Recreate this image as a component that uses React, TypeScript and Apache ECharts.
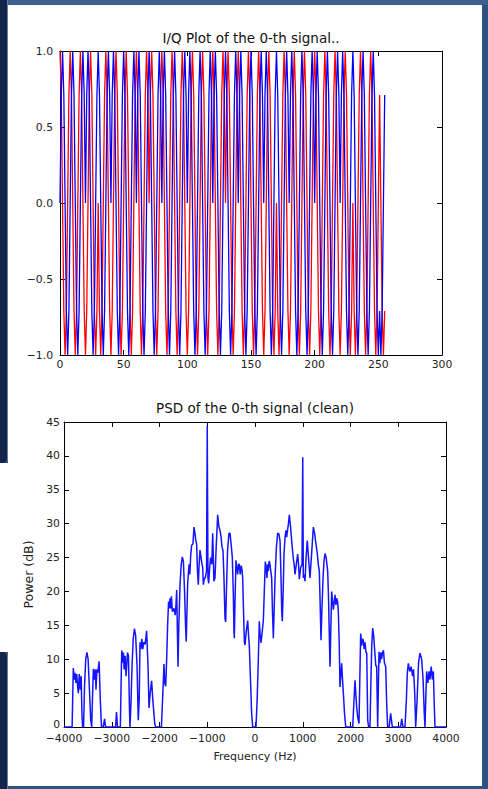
import React, { useEffect, useRef } from 'react';
import * as echarts from 'echarts';

// ---------- texts ----------
const iqTitle = 'I/Q Plot of the 0-th signal..';
const psdTitle = 'PSD of the 0-th signal (clean)';
const psdXName = 'Frequency (Hz)';
const psdYName = 'Power (dB)';

// ---------- axis ranges (min, max, interval) ----------
const iqXRange = [0, 300, 50];
const iqYRange = [-1, 1, 0.5];
const psdXRange = [-4000, 4000, 1000];
const psdYRange = [0, 45, 5];

// ---------- I/Q samples (256) ----------
// red trace
const iValues = [
  1,
  .71, 0, -.71, -1, -.71, 0, .71, 1, .71, 0,
  -.71, -1, -.71, 0, .71, 1, .71, 0, -.71, -1,
  -.71, 0, .71, 1, .71, 0, -.71, -1, -.71, 0,
  -.71, -1, -.71, 0, .71, 1, .71, 0, -.71, -1,
  -.71, 0, .71, 1, .71, 0, -.71, -1, -.71, 0,
  .71, 1, .71, 0, -.71, -1, -.71, 0, .71, 1,
  .71, 0, -.71, -1, -.71, 0, .71, 1, .71, 0,
  .71, 1, .71, 0, -.71, -1, -.71, 0, .71, 1,
  .71, 0, -.71, -1, -.71, 0, .71, 1, .71, 0,
  -.71, -1, -.71, 0, .71, 1, .71, 0, -.71, -1,
  -.71, 0, .71, 1, .71, 0, -.71, -1, -.71, 0,
  .71, 1, .71, 0, -.71, -1, -.71, 0, .71, 1,
  .71, 0, -.71, -1, -.71, 0, .71, 1, .71, 0,
  .71, 1, .71, 0, -.71, -1, -.71, 0, .71, 1,
  .71, 0, -.71, -1, -.71, 0, .71, 1, .71, 0,
  -.71, -1, -.71, 0, .71, 1, .71, 0, -.71, -1,
  -.71, 0, .71, 1, .71, 0, -.71, -1, -.71, 0,
  -.71, -1, -.71, 0, .71, 1, .71, 0, -.71, -1,
  -.71, 0, .71, 1, .71, 0, -.71, -1, -.71, 0,
  .71, 1, .71, 0, -.71, -1, -.71, 0, .71, 1,
  .71, 0, -.71, -1, -.71, 0, .71, 1, .71, 0,
  -.71, -1, -.71, 0, .71, 1, .71, 0, -.71, -1,
  -.71, 0, .71, 1, .71, 0, -.71, -1, -.71, 0,
  -.71, -1, -.71, 0, .71, 1, .71, 0, -.71, -1,
  -.71, 0, .71, 1, .71, 0, -.71, -1, -.71, 0,
  .71, 0, -.71, -1, -.71,
];
// blue trace
const qValues = [
  0,
  .71, 1, .71, 0, -.71, -1, -.71, 0, .71, 1,
  .71, 0, -.71, -1, -.71, 0, .71, 1, .71, 0,
  .71, 1, .71, 0, -.71, -1, -.71, 0, .71, 1,
  .71, 0, -.71, -1, -.71, 0, .71, 1, .71, 0,
  .71, 1, .71, 0, -.71, -1, -.71, 0, .71, 1,
  .71, 0, -.71, -1, -.71, 0, .71, 1, .71, 0,
  .71, 1, .71, 0, -.71, -1, -.71, 0, .71, 1,
  .71, 0, -.71, -1, -.71, 0, .71, 1, .71, 0,
  .71, 1, .71, 0, -.71, -1, -.71, 0, .71, 1,
  .71, 0, -.71, -1, -.71, 0, .71, 1, .71, 0,
  .71, 1, .71, 0, -.71, -1, -.71, 0, .71, 1,
  .71, 0, -.71, -1, -.71, 0, .71, 1, .71, 0,
  .71, 1, .71, 0, -.71, -1, -.71, 0, .71, 1,
  .71, 0, -.71, -1, -.71, 0, .71, 1, .71, 0,
  .71, 1, .71, 0, -.71, -1, -.71, 0, .71, 1,
  .71, 0, -.71, -1, -.71, 0, .71, 1, .71, 0,
  .71, 1, .71, 0, -.71, -1, -.71, 0, .71, 1,
  .71, 0, -.71, -1, -.71, 0, .71, 1, .71, 0,
  .71, 1, .71, 0, -.71, -1, -.71, 0, .71, 1,
  .71, 0, -.71, -1, -.71, 0, .71, 1, .71, 0,
  .71, 1, .71, 0, -.71, -1, -.71, 0, .71, 1,
  .71, 0, -.71, -1, -.71, 0, .71, 1, .71, 0,
  .71, 1, .71, 0, -.71, -1, -.71, 0, .71, 1,
  .71, 0, -.71, -1, -.71, 0, .71, 1, .71, 0,
  -.71, -1, -.71, 0, .71, 1, .71, 0, -.71, -1,
  -.71, -1, -.71, 0, .71,
];

// ---------- PSD (frequency Hz, power dB) ----------
const psdFreq = [
  -4000, -3830, -3805, -3785, -3770, -3750, -3734, -3715, -3700, -3680, -3660, -3640, -3625, -3610,
  -3590, -3570, -3545, -3520, -3495, -3470, -3440, -3420,
  -3400, -3385, -3365, -3345, -3330, -3310, -3290, -3265, -3240, -3215,
  -3180, -3150, -3130, -2920, -2900, -2880, -2820,
  -2800, -2790, -2770, -2755, -2740, -2720, -2700, -2670, -2650, -2630, -2618,
  -2600, -2575, -2550, -2525, -2500, -2470, -2445,
  -2425, -2408, -2390, -2370, -2350, -2330, -2300, -2270, -2240, -2220, -2195, -2165, -2140, -2100, -2080,
  -1960, -1930, -1906, -1890, -1870, -1850, -1830, -1810, -1795, -1780, -1765, -1750, -1730, -1700, -1670, -1655, -1640, -1625, -1612,
  -1595, -1570, -1545, -1522, -1500, -1475, -1455, -1440,
  -1425, -1410, -1395, -1380, -1365, -1345, -1327, -1300, -1277, -1255, -1240, -1222, -1205, -1187, -1170, -1152, -1130, -1110, -1096, -1082, -1060, -1040, -1015,
  -1000, -985, -970, -950, -930, -905, -886, -860, -838, -810, -782, -755, -733, -710, -690, -670, -650, -628, -614,
  -595, -575, -545, -524, -500, -475, -455, -440, -433,
  -420, -398, -380, -363, -345, -328, -310, -287, -270, -258, -240, -222, -209, -185, -153, -135, -119, -95, -70, -48,
  0, 21, 45, 70, 90, 108, 126, 150, 174, 195, 216, 235, 250, 265, 279, 296, 314, 330, 349, 366, 384,
  400, 420, 448, 475, 500, 524, 545, 560, 572, 590, 607, 630, 649, 663, 677, 700, 719, 745, 768, 800, 820, 838, 865, 894, 912, 928, 955, 985,
  1000, 1012, 1030, 1047, 1070, 1095, 1120, 1152, 1185, 1222, 1250, 1277, 1306, 1325, 1347, 1365, 1382,
  1400, 1425, 1445, 1466, 1490, 1522, 1540, 1555, 1571,
  1590, 1606, 1625, 1641, 1660, 1676, 1695, 1711, 1730, 1746, 1765, 1780, 1800, 1815, 1833, 1850, 1875, 1900,
  2047, 2070, 2094, 2110, 2129, 2150, 2178, 2195, 2213, 2235, 2250, 2269, 2285, 2304, 2325, 2340, 2360, 2380,
  2408, 2425, 2445, 2464, 2485, 2510, 2530, 2548, 2569,
  2597, 2615, 2635, 2650, 2670, 2690, 2710, 2737, 2760, 2778,
  2810, 2841, 2876, 3050, 3072, 3100, 3141,
  3170, 3190, 3211, 3240, 3270, 3300, 3320, 3345, 3365,
  3395, 3425, 3455, 3490, 3520, 3545, 3560,
  3580, 3595, 3620, 3645, 3665, 3690, 3715, 3735, 3755, 3770, 4000,
];
const psdPower = [
  0, 0, 8.7, 7.0, 8.0, 6.5, 7.8, 6.0, 5.0, 7.8, 5.5, 7.5, 2.0, 0,
  0, 6.0, 10.0, 11.0, 10.0, 6.0, 1.0, 0,
  5.0, 8.6, 7.0, 8.5, 5.5, 8.5, 8.0, 9.7, 4.0, 0,
  0, 1.2, 0, 0, 2.2, 0, 0,
  8.0, 11.3, 9.5, 11.0, 8.5, 10.5, 7.5, 11.0, 10.5, 3.0, 0,
  3.0, 9.0, 13.0, 14.5, 13.5, 9.0, 1.0,
  4.0, 12.5, 11.5, 13.0, 11.5, 12.5, 12.2, 14.2, 9.0, 2.8, 5.0, 6.8, 4.0, 0.5, 0,
  0, 5.0, 9.3, 6.5, 6.0, 10.0, 15.0, 18.5, 17.5, 19.0, 17.5, 19.3, 17.0, 17.5, 16.5, 18.0, 20.2, 14.0, 8.9,
  15.0, 21.0, 24.0, 25.1, 24.5, 20.0, 15.0, 12.6,
  17.0, 21.2, 22.7, 24.0, 22.5, 25.5, 26.8, 27.0, 29.5, 28.5, 27.5, 27.0, 23.0, 21.0, 24.0, 26.1, 25.0, 24.0, 23.6, 21.0, 22.0, 22.0, 23.0,
  44.5, 22.0, 21.2, 23.5, 25.0, 24.0, 28.6, 21.5, 22.0, 27.0, 31.3, 29.5, 29.0, 28.0, 26.5, 26.0, 22.0, 16.0, 15.5,
  21.0, 26.0, 28.6, 28.6, 27.0, 25.0, 20.0, 14.0, 13.1,
  18.0, 24.6, 23.5, 22.5, 24.0, 24.0, 22.5, 23.8, 23.0, 22.0, 17.0, 12.5, 12.1, 14.0, 15.7, 13.5, 12.0, 7.0, 2.0, 0,
  0, 0, 4.0, 10.0, 15.6, 13.5, 12.4, 14.0, 15.6, 20.0, 24.4, 23.5, 22.0, 24.0, 23.0, 24.5, 24.0, 23.0, 22.0, 17.0, 13.1,
  17.0, 22.0, 26.5, 28.6, 28.5, 27.5, 22.0, 17.0, 15.6, 20.0, 25.5, 28.0, 29.0, 28.0, 28.0, 30.0, 31.3, 29.5, 27.5, 25.0, 24.0, 22.5, 24.0, 25.5, 24.0, 21.8, 23.5, 24.0,
  39.8, 22.0, 22.5, 21.5, 25.0, 27.5, 25.0, 22.0, 25.5, 29.5, 28.5, 27.0, 25.5, 24.0, 23.0, 18.0, 12.8,
  17.0, 22.0, 24.5, 25.6, 25.0, 23.0, 19.0, 14.0, 8.9,
  15.0, 20.0, 18.5, 17.3, 18.5, 19.5, 18.0, 19.0, 18.5, 16.8, 12.0, 5.9, 8.0, 9.4, 7.0, 5.0, 2.0, 0,
  0, 3.5, 6.9, 5.0, 3.0, 1.5, 0.5, 7.0, 13.8, 12.0, 13.0, 12.8, 11.5, 12.5, 11.0, 10.9, 1.0, 0,
  0, 6.0, 12.0, 14.6, 13.5, 11.0, 9.0, 9.0, 0,
  11.1, 9.4, 11.0, 10.0, 11.0, 11.3, 9.5, 8.9, 3.0, 0,
  0, 2.0, 0, 0, 1.2, 0, 0,
  4.0, 8.0, 9.4, 8.2, 8.9, 7.5, 8.5, 5.0, 0,
  4.0, 9.5, 10.9, 10.0, 7.0, 2.0, 0,
  5.0, 8.2, 6.5, 8.2, 7.0, 8.9, 7.0, 8.2, 3.0, 0, 0,
];

const FONT = 'DejaVu Sans';
const LABEL_COLOR = '#222';
const minus = (s: string) => s.replace('-', '\u2212');

function boxAxes(
  kind: 'x' | 'y',
  gridIndex: number,
  range: number[],
  labelMargin: number,
  fmt: (v: number) => string,
  extra?: any
) {
  const common = {
    type: 'value',
    gridIndex,
    min: range[0],
    max: range[1],
    interval: range[2],
    splitLine: { show: false },
    axisLine: { show: true, onZero: false, lineStyle: { color: '#000', width: 1 } },
    axisTick: { show: true, inside: true, length: 5, lineStyle: { color: '#000', width: 1 } },
  };
  const main: any = {
    ...common,
    position: kind === 'x' ? 'bottom' : 'left',
    axisLabel: {
      show: true,
      margin: labelMargin,
      fontSize: 10.8,
      fontFamily: FONT,
      color: LABEL_COLOR,
      formatter: fmt,
      rich: {
        z: { fontSize: 10.8, fontFamily: FONT, color: LABEL_COLOR, padding: [0, 0, 6, 0] },
      },
    },
    ...(extra || {}),
  };
  const mirror: any = {
    ...common,
    position: kind === 'x' ? 'top' : 'right',
    axisLabel: { show: false },
  };
  return [main, mirror];
}

export default function App() {
  const ref = useRef<HTMLDivElement>(null);

  useEffect(() => {
    if (!ref.current) return;
    const chart = echarts.init(ref.current, undefined, { renderer: 'svg' });

    const iData = iValues.map((v, k) => [k, v]);
    const qData = qValues.map((v, k) => [k, v]);
    const psdData = psdFreq.map((f, i) => [f, psdPower[i]]);

    const iqXFmt = (v: number) => String(v);
    const iqYFmt = (v: number) => minus(v.toFixed(1));
    const psdXFmt = (v: number) => minus(String(v));
    const psdYFmt = (v: number) => (v === 0 ? '{z|0}' : String(v));

    const option: any = {
      animation: false,
      backgroundColor: 'transparent',
      title: [
        {
          text: iqTitle,
          left: 251,
          top: 31,
          textAlign: 'center',
          padding: 0,
          textStyle: { fontFamily: FONT, fontSize: 13.5, fontWeight: 'normal', color: '#111' },
        },
        {
          text: psdTitle,
          left: 255,
          top: 401,
          textAlign: 'center',
          padding: 0,
          textStyle: { fontFamily: FONT, fontSize: 13.5, fontWeight: 'normal', color: '#111' },
        },
      ],
      grid: [
        { left: 60, top: 51, width: 382, height: 304, containLabel: false },
        { left: 64, top: 422, width: 382, height: 305, containLabel: false },
      ],
      xAxis: [
        ...boxAxes('x', 0, iqXRange, 4, iqXFmt),
        ...boxAxes('x', 1, psdXRange, 6, psdXFmt, {
          name: psdXName,
          nameLocation: 'middle',
          nameGap: 24,
          nameTextStyle: { fontFamily: FONT, fontSize: 11, color: LABEL_COLOR },
        }),
      ],
      yAxis: [
        ...boxAxes('y', 0, iqYRange, 7, iqYFmt),
        ...boxAxes('y', 1, psdYRange, 4, psdYFmt, {
          name: psdYName,
          nameLocation: 'middle',
          nameGap: 25,
          nameRotate: 90,
          nameTextStyle: { fontFamily: FONT, fontSize: 12.5, color: LABEL_COLOR },
        }),
      ],
      series: [
        {
          type: 'line',
          xAxisIndex: 0,
          yAxisIndex: 0,
          data: iData,
          showSymbol: false,
          symbol: 'none',
          lineStyle: { color: '#ff0000', width: 1.3 },
          z: 2,
        },
        {
          type: 'line',
          xAxisIndex: 0,
          yAxisIndex: 0,
          data: qData,
          showSymbol: false,
          symbol: 'none',
          lineStyle: { color: '#0000ff', width: 1.3 },
          z: 3,
        },
        {
          type: 'line',
          xAxisIndex: 2,
          yAxisIndex: 2,
          data: psdData,
          showSymbol: false,
          symbol: 'none',
          lineStyle: { color: '#1414ff', width: 1.5 },
          z: 3,
        },
      ],
    };

    chart.setOption(option);
    return () => chart.dispose();
  }, []);

  return (
    <div
      style={{
        position: 'fixed',
        left: 0,
        top: 0,
        width: 488,
        height: 789,
        background: '#2f5285',
        overflow: 'hidden',
      }}
    >
      <div style={{ position: 'absolute', left: 0, top: 0, width: 488, height: 5, background: '#3c5f90' }} />
      <div style={{ position: 'absolute', left: 8, top: 5, width: 474, height: 781, background: '#ffffff' }} />
      <div
        style={{
          position: 'absolute',
          left: 0,
          top: 0,
          width: 7,
          height: 463,
          background: '#15244a',
          borderRight: '1px solid #5d7fb3',
          borderBottomRightRadius: 4,
        }}
      />
      <div style={{ position: 'absolute', left: 0, top: 463, width: 8, height: 189, background: '#ffffff' }} />
      <div
        style={{
          position: 'absolute',
          left: 0,
          top: 652,
          width: 7,
          height: 137,
          background: '#15244a',
          borderRight: '1px solid #5d7fb3',
          borderTopRightRadius: 4,
        }}
      />
      <div ref={ref} style={{ position: 'absolute', left: 0, top: 0, width: 488, height: 789 }} />
    </div>
  );
}
